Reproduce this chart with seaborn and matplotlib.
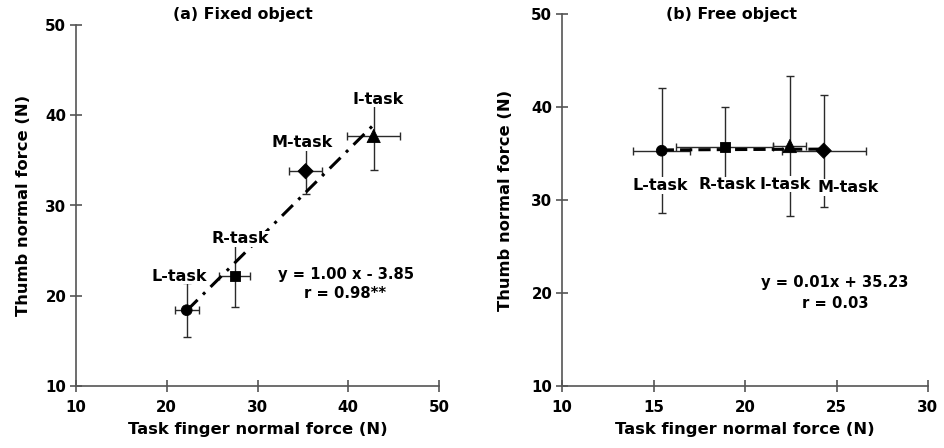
import matplotlib
matplotlib.use("Agg")
import matplotlib.pyplot as plt
import seaborn as sns
import numpy as np
import pandas as pd

# ---- data ----
tasks = ["L-task", "R-task", "M-task", "I-task"]
markers_by_task = {"L-task": "o", "R-task": "s", "M-task": "D", "I-task": "^"}

fixed_x = [22.2, 27.5, 35.3, 42.8]
fixed_y = [18.4, 22.2, 33.8, 37.7]
fixed_xerr = [1.3, 1.7, 1.85, 2.95]
fixed_yerr = [3.0, 3.5, 2.5, 3.8]
fixed_slope, fixed_intercept = 1.00, -3.85
fixed_eq = ["y = 1.00 x - 3.85", "r = 0.98**"]

free_x = [15.45, 18.9, 24.3, 22.45]
free_y = [35.3, 35.7, 35.3, 35.8]
free_xerr = [1.55, 2.65, 2.3, 0.9]
free_yerr = [6.7, 4.3, 6.0, 7.5]
free_slope, free_intercept = 0.01, 35.23
free_eq = ["y = 0.01x + 35.23", "r = 0.03"]

xlabel = "Task finger normal force (N)"
ylabel = "Thumb normal force (N)"
titles = ["(a) Fixed object", "(b) Free object"]

sns.set_theme(style="white")
plt.rcParams["font.family"] = ["DejaVu Sans"]
plt.rcParams["font.weight"] = "bold"
plt.rcParams["axes.labelweight"] = "bold"
plt.rcParams["text.color"] = "black"
plt.rcParams["axes.labelcolor"] = "black"
plt.rcParams["xtick.labelcolor"] = "black"
plt.rcParams["ytick.labelcolor"] = "black"

fig = plt.figure(figsize=(9.44, 4.48), dpi=100)
W, H = 944.0, 448.0
axL = fig.add_axes([76 / W, (H - 386) / H, (439 - 76) / W, (386 - 25) / H])
axR = fig.add_axes([562 / W, (H - 386) / H, (928 - 562) / W, (386 - 14) / H])

axis_col = "#555555"
err_col = "#2a2a2a"
LBL = 11.5


def draw(ax, xs, ys, xe, ye, slope, intercept, ls, xlim, xticks, label_offsets, ylpad):
    df = pd.DataFrame({"x": xs, "y": ys, "task": tasks})
    xr = np.array([min(xs), max(xs)])
    line_df = pd.DataFrame({"x": xr, "y": slope * xr + intercept})
    ax.errorbar(xs, ys, xerr=xe, yerr=ye, fmt="none", ecolor=err_col,
                elinewidth=1.0, capsize=3, capthick=1.0, zorder=2)
    sns.lineplot(data=line_df, x="x", y="y", ax=ax, color="black",
                 linewidth=2.2, linestyle=ls, zorder=3)
    sns.scatterplot(data=df, x="x", y="y", style="task", markers=markers_by_task,
                    s=[60, 55, 60, 90], color="black", edgecolor="black",
                    legend=False, ax=ax, zorder=4)
    for t, x, y, (dx, dy) in zip(tasks, xs, ys, label_offsets):
        ax.annotate(t, (x, y), xytext=(dx, dy), textcoords="offset pixels",
                    ha="center", va="center", fontsize=LBL, fontweight="bold",
                    color="black",
                    bbox=dict(boxstyle="square,pad=0.05", fc="white", ec="none"),
                    zorder=5)
    ax.set_xlim(*xlim)
    ax.set_ylim(10, 50)
    ax.set_xticks(xticks)
    ax.set_yticks([10, 20, 30, 40, 50])
    for s in ["top", "right"]:
        ax.spines[s].set_visible(False)
    for s in ["left", "bottom"]:
        ax.spines[s].set_color(axis_col)
        ax.spines[s].set_linewidth(1.2)
    ax.tick_params(direction="inout", length=8, width=1.2, color=axis_col,
                   labelcolor="black", labelsize=10.8, bottom=True, left=True)
    ax.tick_params(axis="x", pad=6)
    ax.tick_params(axis="y", pad=3)
    for lab in ax.get_xticklabels() + ax.get_yticklabels():
        lab.set_fontweight("bold")
    ax.set_xlabel(xlabel, fontsize=11.8, fontweight="bold", labelpad=5, color="black")
    ax.set_ylabel(ylabel, fontsize=11.8, fontweight="bold", labelpad=ylpad, color="black")
    ax.set_facecolor("white")


draw(axL, fixed_x, fixed_y, fixed_xerr, fixed_yerr, fixed_slope, fixed_intercept,
     (0, (5, 2.5, 1, 2.5)), (10, 50), [10, 20, 30, 40, 50],
     [(-7, 34), (5, 37), (-3, 29), (4, 37)], 10)
draw(axR, free_x, free_y, free_xerr, free_yerr, free_slope, free_intercept,
     (0, (4, 2)), (10, 30), [10, 15, 20, 25, 30],
     [(-1, -35), (2, -38), (24, -37), (-5, -38)], 13)

for (xp, yp, s) in [(346, 275, fixed_eq[0]), (345, 294, fixed_eq[1]),
                    (835, 283, free_eq[0]), (835, 304, free_eq[1])]:
    fig.text(xp / W, (H - yp) / H, s, ha="center", va="center",
             fontsize=10.6, fontweight="bold", color="black")

fig.text(243 / W, 1 - 15 / H, titles[0], ha="center", va="center",
         fontsize=11.3, fontweight="bold", color="black")
fig.text(731 / W, 1 - 15 / H, titles[1], ha="center", va="center",
         fontsize=11.3, fontweight="bold", color="black")

fig.savefig("out.png", dpi=100, facecolor="white")
